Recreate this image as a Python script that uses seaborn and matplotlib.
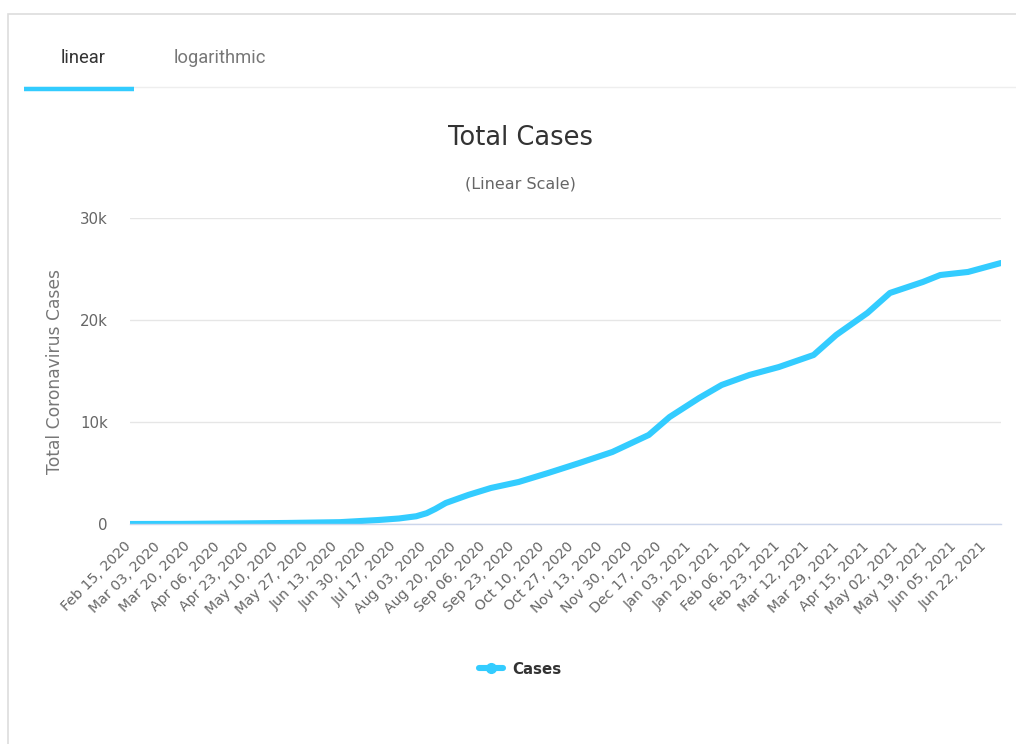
import matplotlib
matplotlib.use("Agg")
import matplotlib.pyplot as plt
import matplotlib.transforms as mtransforms
from matplotlib.lines import Line2D
from matplotlib.patches import Rectangle
import pandas as pd
import seaborn as sns

# values
DATES = ["2020-02-15", "2020-03-15", "2020-04-15", "2020-05-15", "2020-06-15",
         "2020-07-07", "2020-07-19", "2020-07-29", "2020-08-04", "2020-08-09",
         "2020-08-15", "2020-08-28", "2020-09-10", "2020-09-26", "2020-10-13",
         "2020-10-31", "2020-11-19", "2020-12-10", "2020-12-22", "2021-01-08",
         "2021-01-21", "2021-02-06", "2021-02-23", "2021-03-15", "2021-03-28",
         "2021-04-15", "2021-04-28", "2021-05-17", "2021-05-27", "2021-06-12",
         "2021-07-01"]
CASES = [0, 10, 50, 100, 180, 390, 540, 760, 1060, 1480,
         2060, 2850, 3530, 4120, 5000, 5980, 7060, 8730, 10490, 12350,
         13630, 14610, 15390, 16570, 18530, 20690, 22650, 23730, 24410, 24710,
         25590]
Y_TICKS = [0, 10000, 20000, 30000]
Y_LABELS = ["0", "10k", "20k", "30k"]
TICK_START = "2020-02-15"
TICK_COUNT = 30
TICK_STEP = "17D"

LINE_COLOR = "#33ccff"
TEXT_DARK = "#333333"
TEXT_GRAY = "#666666"


def main():
    df = pd.DataFrame({"date": pd.to_datetime(DATES), "cases": CASES})

    sns.set_theme(style="white")
    plt.rcParams["font.family"] = ["DejaVu Sans"]

    fig = plt.figure(figsize=(10.16, 7.44), dpi=100)
    W, H = 1016, 744

    # outer card border
    fig.patches.append(Rectangle((8 / W, -0.01), 1.2, 1 - 14 / H + 0.01,
                                 transform=fig.transFigure, fill=False,
                                 edgecolor="#dddddd", linewidth=1.2))

    # tabs
    fig.text(83 / W, 1 - 58 / H, "linear", ha="center", va="center",
             fontsize=13.2, color=TEXT_DARK, family="Roboto")
    fig.text(220 / W, 1 - 58 / H, "logarithmic", ha="center", va="center",
             fontsize=13.2, color="#777777", family="Roboto")
    fig.add_artist(Line2D([24 / W, 1.0], [1 - 87 / H] * 2, transform=fig.transFigure,
                          color="#eeeeee", linewidth=1))
    fig.add_artist(Line2D([24 / W, 134 / W], [1 - 89 / H] * 2, transform=fig.transFigure,
                          color=LINE_COLOR, linewidth=3.2, solid_capstyle="butt"))

    # title / subtitle
    fig.text(520 / W, 1 - 138 / H, "Total Cases", ha="center", va="center",
             fontsize=18.5, color=TEXT_DARK)
    fig.text(520 / W, 1 - 184 / H, "(Linear Scale)", ha="center", va="center",
             fontsize=11.5, color=TEXT_GRAY)

    ax = fig.add_axes([130 / W, 1 - 524 / H, 871 / W, 306 / H])
    sns.lineplot(data=df, x="date", y="cases", ax=ax, color=LINE_COLOR,
                 linewidth=4.4, solid_capstyle="round", solid_joinstyle="round",
                 label="Cases", legend=False)

    ax.set_xlim(df["date"].iloc[0], df["date"].iloc[-1])
    ax.set_ylim(0, 30000)
    ax.set_yticks(Y_TICKS)
    ax.set_yticklabels(Y_LABELS)
    ax.grid(axis="y", color="#e6e6e6", linewidth=1)
    ax.set_axisbelow(True)

    ticks = pd.date_range(TICK_START, periods=TICK_COUNT, freq=TICK_STEP)
    ax.set_xticks(ticks)
    ax.set_xticklabels([t.strftime("%b %d, %Y") for t in ticks], rotation=45,
                       ha="right", va="top", rotation_mode="anchor")
    ax.tick_params(axis="x", length=0, pad=8, labelsize=10.2, labelcolor=TEXT_GRAY)
    ax.tick_params(axis="y", length=0, pad=16, labelsize=10.8, labelcolor=TEXT_GRAY)
    shift = mtransforms.ScaledTranslation(-6 / 100, -4 / 100, fig.dpi_scale_trans)
    for lbl in ax.get_xticklabels():
        lbl.set_transform(lbl.get_transform() + shift)

    for side in ["top", "right", "left"]:
        ax.spines[side].set_visible(False)
    ax.spines["bottom"].set_color("#ccd6eb")
    ax.spines["bottom"].set_linewidth(1)

    ax.set_xlabel("")
    ax.set_ylabel("Total Coronavirus Cases", fontsize=12.3, color="#777777")
    ax.yaxis.set_label_coords(-66 / 871, 0.5)

    # legend
    handle = Line2D([], [], color=LINE_COLOR, linewidth=4.4, marker="o", markersize=7)
    fig.legend([handle], ["Cases"], loc="center", bbox_to_anchor=(520 / W, 1 - 669 / H),
               frameon=False, handlelength=1.6, handletextpad=0.6,
               prop={"weight": "bold", "size": 10.8}, labelcolor=TEXT_DARK)

    fig.savefig("out.png", dpi=100, facecolor="white")


if __name__ == "__main__":
    main()
